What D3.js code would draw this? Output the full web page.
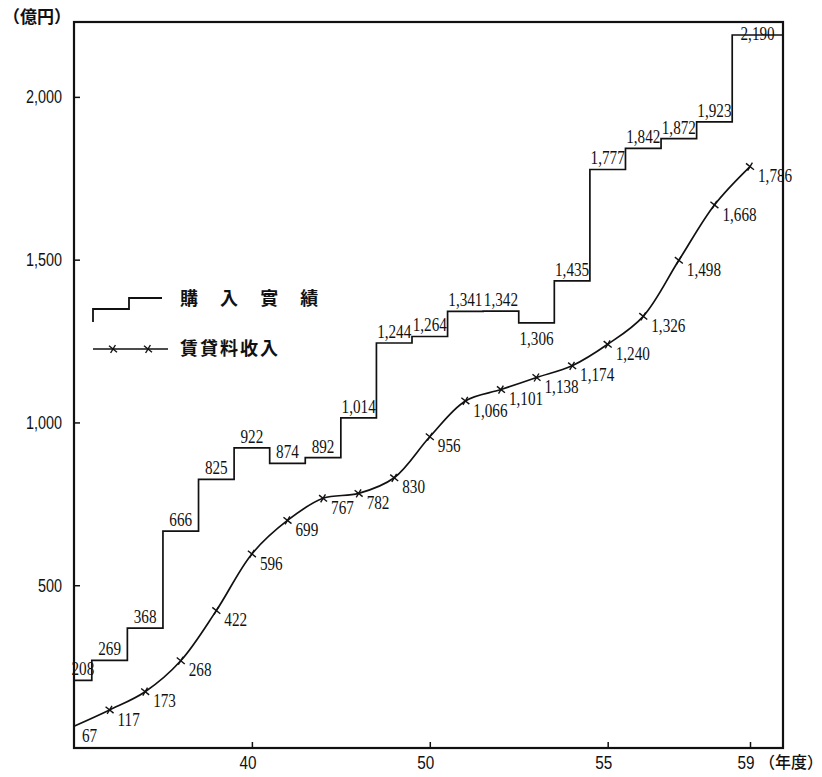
<!DOCTYPE html>
<html>
<head>
<meta charset="utf-8">
<script src="https://cdn.jsdelivr.net/npm/d3@7/dist/d3.min.js"></script>
<style>
  html, body { margin: 0; padding: 0; background: #fff; }
  svg { display: block; }
  .num { font-family: "Liberation Serif", "DejaVu Serif", serif; font-size: 19px; fill: #111; }
  .ax { font-family: "Liberation Sans", "DejaVu Sans", sans-serif; font-size: 18px; fill: #111; }
  .jp { font-family: "Noto Sans CJK JP", sans-serif; font-weight: 700; fill: #111; }
</style>
</head>
<body>
<svg id="chart" width="822" height="777"></svg>
<script>
// ---- data ----
const years = [35, 36, 37, 38, 39, 40, 41, 42, 43, 44, 45, 46, 47, 48, 49, 50, 51, 52, 53, 54];
const purchases = [208, 269, 368, 666, 825, 922, 874, 892, 1014, 1244, 1264, 1341, 1342, 1306, 1435, 1777, 1842, 1872, 1923, 2190];
const rentIncome = [67, 117, 173, 268, 422, 596, 699, 767, 782, 830, 956, 1066, 1101, 1138, 1174, 1240, 1326, 1498, 1668, 1786];
const yTicks = [500, 1000, 1500, 2000];
const xTickYears = [40, 45, 50, 54];
const xTickLabels = ["40", "50", "55", "59"];
const seriesNames = ["購 入 實 績", "賃貸料收入"];
const yUnit = "（億円）";
const xUnit = "（年度）";

// ---- layout (not data) ----
const plot = { left: 74, right: 783, top: 22, bottom: 748 };
const stepLabelOffset = { 13: 22, 19: 5 }; // exceptions: baseline offset from the step
const condense = 0.8;

const svg = d3.select("#chart");
const fmt = d3.format(",");

const x = d3.scalePoint().domain(years).range([74, 750]);
const y = d3.scaleLinear().domain([0, 2230]).range([plot.bottom, plot.top]);

function place(sel, fx, fy, sx) {
  sel.attr("transform", (d, i) => `translate(${fx(d, i)},${fy(d, i)}) scale(${sx},1)`);
}

// frame
svg.append("rect")
  .attr("x", plot.left).attr("y", plot.top)
  .attr("width", plot.right - plot.left).attr("height", plot.bottom - plot.top)
  .attr("fill", "none").attr("stroke", "#111").attr("stroke-width", 2.2);

// y axis (inner ticks)
const yAxis = d3.axisRight(y).tickValues(yTicks).tickSize(6).tickFormat("");
const gy = svg.append("g").attr("transform", `translate(${plot.left},0)`).call(yAxis);
gy.select(".domain").remove();
gy.selectAll("line").attr("stroke", "#111").attr("stroke-width", 1.5);
svg.append("g").selectAll("text").data(yTicks).join("text")
  .attr("class", "ax")
  .attr("dy", "0.35em")
  .attr("text-anchor", "end")
  .text(d => fmt(d))
  .call(place, () => 62, d => y(d), 0.8);

// x axis (inner ticks)
const xAxis = d3.axisTop(x).tickValues(xTickYears).tickSize(6).tickFormat("");
const gx = svg.append("g").attr("transform", `translate(0,${plot.bottom})`).call(xAxis);
gx.select(".domain").remove();
gx.selectAll("line").attr("stroke", "#111").attr("stroke-width", 1.5);
svg.append("g").selectAll("text").data(xTickYears).join("text")
  .attr("class", "ax")
  .attr("dy", "0.35em")
  .attr("text-anchor", "middle")
  .text((d, i) => xTickLabels[i])
  .call(place, d => x(d) - 4, () => 763, 0.85);

// units
svg.append("text").attr("class", "jp").style("font-size", "17px")
  .attr("x", 3).attr("y", 17).attr("dy", "0.35em").text(yUnit);
svg.append("text").attr("class", "jp").style("font-size", "16px").style("font-weight", 500)
  .attr("x", x(54) + 9).attr("y", 762).attr("dy", "0.35em").text(xUnit);

// ---- step series: 購入實績 ----
const n = purchases.length;
const edges = years.map((yr, i) => {
  const left = i === 0 ? x(yr) : (x(years[i - 1]) + x(yr)) / 2;
  const right = i === n - 1 ? plot.right : (x(yr) + x(years[i + 1])) / 2;
  return { left, right, v: purchases[i], i };
});
let d = `M${edges[0].left},${y(edges[0].v)}`;
edges.forEach((e, i) => {
  if (i > 0) d += `V${y(e.v)}`;
  d += `H${e.right}`;
});
svg.append("path").attr("d", d).attr("fill", "none")
  .attr("stroke", "#111").attr("stroke-width", 1.7);

svg.append("g").selectAll("text").data(edges).join("text")
  .attr("class", "num")
  .attr("text-anchor", "middle")
  .text(e => fmt(e.v))
  .call(place, e => (e.left + e.right) / 2,
        e => y(e.v) + (stepLabelOffset[e.i] !== undefined ? stepLabelOffset[e.i] : -5), condense);

// ---- line series: 賃貸料收入 ----
const pts = years.map((yr, i) => ({ x: x(yr), y: y(rentIncome[i]), v: rentIncome[i] }));
const line = d3.line().x(p => p.x).y(p => p.y).curve(d3.curveCatmullRom.alpha(0.5));
svg.append("path").attr("d", line(pts)).attr("fill", "none")
  .attr("stroke", "#111").attr("stroke-width", 1.7);

function cross(g, cx, cy, s) {
  g.append("line").attr("x1", cx - s).attr("y1", cy - s * 0.8).attr("x2", cx + s).attr("y2", cy + s * 0.8)
    .attr("stroke", "#111").attr("stroke-width", 1.4);
  g.append("line").attr("x1", cx - s * 0.6).attr("y1", cy + s).attr("x2", cx + s * 0.6).attr("y2", cy - s)
    .attr("stroke", "#111").attr("stroke-width", 1.4);
}
const gm = svg.append("g");
pts.slice(1).forEach(p => cross(gm, p.x, p.y, 4));

svg.append("g").selectAll("text").data(pts).join("text")
  .attr("class", "num")
  .attr("dy", "0.35em")
  .attr("text-anchor", "start")
  .text(p => fmt(p.v))
  .call(place, p => p.x + 8, p => p.y + 9, condense);

// ---- legend ----
const lg = svg.append("g");
lg.append("path")
  .attr("d", "M93,322V309H129V298H162")
  .attr("fill", "none").attr("stroke", "#111").attr("stroke-width", 1.8);
lg.append("text").attr("class", "jp").style("font-size", "18px").style("letter-spacing", "9px")
  .attr("x", 180).attr("y", 299).attr("dy", "0.35em").text(seriesNames[0]);
lg.append("line").attr("x1", 93).attr("x2", 168).attr("y1", 349).attr("y2", 349)
  .attr("stroke", "#111").attr("stroke-width", 1.6);
cross(lg, 113, 349, 4);
cross(lg, 148, 349, 4);
lg.append("text").attr("class", "jp").style("font-size", "18px").style("letter-spacing", "2px")
  .attr("x", 180).attr("y", 349).attr("dy", "0.35em").text(seriesNames[1]);
</script>
</body>
</html>
